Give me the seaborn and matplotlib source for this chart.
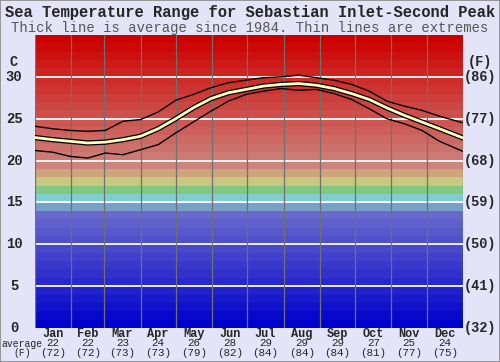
import matplotlib
matplotlib.use("Agg")
import matplotlib.pyplot as plt
import seaborn as sns
import numpy as np
import pandas as pd
from matplotlib.patches import Rectangle

# ---------------- data ----------------
days = [0, 15, 30, 45, 60, 75, 90, 105, 120, 135, 150, 165, 180, 195, 210,
        225, 240, 255, 270, 285, 300, 315, 330, 345, 365]
avg_c = [22.75, 22.5, 22.3, 22.1, 22.2, 22.5, 22.9, 23.8, 25.0, 26.3, 27.4, 28.1,
         28.5, 28.9, 29.1, 29.2, 29.0, 28.6, 28.0, 27.3, 26.3, 25.4, 24.6, 23.8, 22.7]
max_c = [24.1, 23.8, 23.6, 23.5, 23.6, 24.7, 24.9, 25.8, 27.2, 27.9, 28.7, 29.3,
         29.6, 29.9, 30.0, 30.2, 29.9, 29.6, 29.1, 28.3, 27.1, 26.5, 26.0, 25.3, 24.5]
min_c = [21.2, 21.0, 20.5, 20.3, 20.9, 20.7, 21.3, 21.9, 23.3, 24.6, 25.9, 27.1,
         27.9, 28.3, 28.6, 28.4, 28.5, 28.0, 27.3, 26.2, 25.0, 24.4, 23.6, 22.3, 21.1]

months = ["Jan", "Feb", "Mar", "Apr", "May", "Jun", "Jul", "Aug", "Sep", "Oct", "Nov", "Dec"]
month_len = [31, 28, 31, 30, 31, 30, 31, 31, 30, 31, 30, 31]
month_avg_c = [22, 22, 23, 24, 26, 28, 29, 29, 29, 27, 25, 24]
month_avg_f = [72, 72, 73, 73, 79, 82, 84, 84, 84, 81, 77, 75]
c_ticks = [0, 5, 10, 15, 20, 25, 30]
f_ticks = [32, 41, 50, 59, 68, 77, 86]

title = "Sea Temperature Range for Sebastian Inlet-Second Peak"
subtitle = "Thick line is average since 1984. Thin lines are extremes"

# ---------------- style ----------------
sns.set_style("white")
plt.rcParams["font.family"] = ["Liberation Mono", "DejaVu Sans Mono"]
BG = "#e4e4f8"
MONO = ["Liberation Mono", "DejaVu Sans Mono"]

fig = plt.figure(figsize=(5.0, 3.62), dpi=100, facecolor=BG)
ax = fig.add_axes([35 / 500, 1 - 328 / 362, 428 / 500, 293 / 362])
ax.set_facecolor(BG)

# background colour bands, one per degree
def band_color(k):
    if k <= 13:
        return (8 * k / 255, 8 * k / 255, 205 / 255)
    special = {14: (120, 160, 200), 15: (130, 205, 205), 16: (130, 200, 130),
               17: (200, 200, 130), 18: (205, 165, 125), 19: (205, 132, 125)}
    if k in special:
        return tuple(v / 255 for v in special[k])
    f = (34 - k) / 14
    return (205 / 255, 122 * f / 255, 116 * f / 255)

for k in range(35):
    ax.axhspan(k, k + 1, color=band_color(k), lw=0, zorder=0)

# grid lines
for t in c_ticks[1:]:
    ax.axhline(t, color="white", lw=1.3, zorder=1)
bounds = np.concatenate([[0], np.cumsum(month_len)])
for b in bounds:
    ax.axvline(b, color="#707070", lw=0.9, zorder=1)

df = pd.DataFrame({"day": days, "avg": avg_c, "max": max_c, "min": min_c})
sns.lineplot(data=df, x="day", y="max", color="black", lw=1.0, ax=ax, zorder=3,
             estimator=None, sort=False)
sns.lineplot(data=df, x="day", y="min", color="black", lw=1.0, ax=ax, zorder=3,
             estimator=None, sort=False)
sns.lineplot(data=df, x="day", y="avg", color="black", lw=3.8, ax=ax, zorder=4,
             estimator=None, sort=False)
sns.lineplot(data=df, x="day", y="avg", color="#ffffc0", lw=2.0, ax=ax, zorder=5,
             estimator=None, sort=False)

ax.set_xlim(0, 365)
ax.set_ylim(0, 35)
ax.set_xticks([])
ax.set_yticks([])
ax.set_xlabel("")
ax.set_ylabel("")
for s in ax.spines.values():
    s.set_visible(False)

# axis labels
ytr = ax.get_yaxis_transform()
for c, f in zip(c_ticks, f_ticks):
    ax.text(-21 / 428, c, str(c), transform=ytr, ha="center", va="center",
            fontsize=10, fontweight="bold", family=MONO, clip_on=False)
    ax.text(1 + 17 / 428, c, f"({f})", transform=ytr, ha="center", va="center",
            fontsize=9.8, fontweight="bold", family=MONO, clip_on=False)
ax.text(-21 / 428, 1 - 27 / 293, "C", transform=ax.transAxes, ha="center", va="center",
        fontsize=9.8, fontweight="bold", family=MONO)
ax.text(1 + 17 / 428, 1 - 27 / 293, "(F)", transform=ax.transAxes, ha="center",
        va="center", fontsize=9.8, fontweight="bold", family=MONO)

xtr = ax.get_xaxis_transform()
centers = bounds[:-1] + np.array(month_len) / 2
for cx, m, ac, af in zip(centers, months, month_avg_c, month_avg_f):
    ax.text(cx, -6 / 293, m, transform=xtr, ha="center", va="center",
            fontsize=8.6, fontweight="bold", family=MONO)
    ax.text(cx, -15.5 / 293, str(ac), transform=xtr, ha="center", va="center",
            fontsize=7.8, family=MONO)
    ax.text(cx, -24.5 / 293, f"({af})", transform=xtr, ha="center", va="center",
            fontsize=7.8, family=MONO)
fig.text(22 / 500, 1 - 344 / 362, "average", ha="center", va="center",
         fontsize=7.0, family=MONO)
fig.text(22 / 500, 1 - 353 / 362, "(F)", ha="center", va="center",
         fontsize=7.0, family=MONO)

fig.text(0.5, 1 - 12 / 362, title, ha="center", va="center", fontsize=11.2,
         fontweight="bold", family=MONO)
fig.text(0.5, 1 - 28 / 362, subtitle, ha="center", va="center", fontsize=10,
         color="#555555", family=MONO)

fig.patches.append(Rectangle((0, 0), 1, 1, transform=fig.transFigure, fill=False,
                             edgecolor="#888888", lw=1.2))

fig.savefig("out.png", dpi=100, facecolor=BG)
